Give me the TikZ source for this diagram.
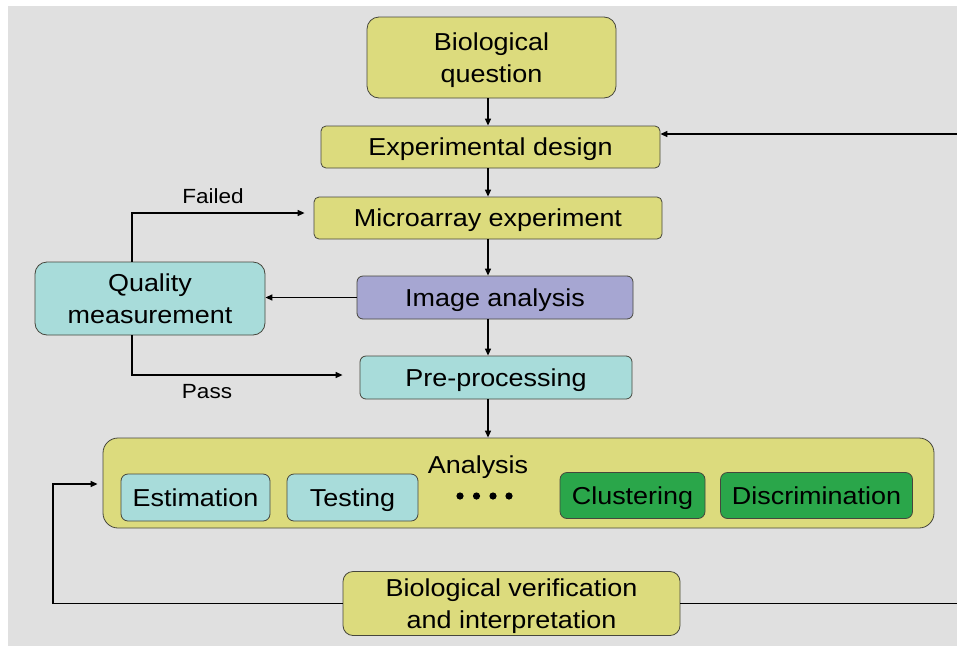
\documentclass[tikz,border=0pt]{standalone}
\usepackage{fontspec}
\setmainfont{Liberation Sans}[FakeStretch=1.1]
\usetikzlibrary{arrows.meta}
\definecolor{bg}{RGB}{224,224,224}
\definecolor{yel}{RGB}{220,219,125}
\definecolor{cya}{RGB}{168,220,218}
\definecolor{grn}{RGB}{42,166,74}
\definecolor{lav}{RGB}{166,166,210}
\definecolor{edge}{RGB}{70,70,60}
\tikzset{
  box/.style={draw=edge, line width=0.8pt, inner sep=0pt, align=center,
    text depth=0pt, font=\fontsize{24.5}{31.5}\selectfont},
  ybox/.style={box, fill=yel},
  cbox/.style={box, fill=cya},
  gbox/.style={box, fill=grn},
  lbox/.style={box, fill=lav},
  lbl/.style={inner sep=0pt, font=\fontsize{20.5}{24}\selectfont},
  arr/.style={line width=1.3pt, -{Triangle[length=7pt,width=6pt]}},
  ln/.style={line width=1.3pt}
}
\begin{document}
\begin{tikzpicture}[x=1pt,y=-1pt]
\useasboundingbox (0,0) rectangle (957,648);
\fill[bg] (8,6) rectangle (957,646);

\node[ybox, rounded corners=12pt, minimum width=249pt, minimum height=81pt] (bq) at (491.5,57.5) {Biological\\question};
\node[ybox, rounded corners=5pt, minimum width=339pt, minimum height=42pt] (ed) at (490.5,147) {Experimental design};
\node[ybox, rounded corners=5pt, minimum width=348pt, minimum height=42pt] (ma) at (488,218) {Microarray experiment};
\node[lbox, rounded corners=6pt, minimum width=276pt, minimum height=43pt] (ia) at (495,297.5) {Image analysis};
\node[cbox, rounded corners=6pt, minimum width=272pt, minimum height=43pt] (pp) at (496,377.5) {Pre-processing};
\node[cbox, rounded corners=12pt, minimum width=230pt, minimum height=73pt] (qm) at (150,298.5) {Quality\\measurement};
\node[ybox, rounded corners=15pt, minimum width=831pt, minimum height=90pt] (an) at (518.5,483) {};
\node[inner sep=0pt, text depth=0pt, font=\fontsize{24.5}{30}\selectfont] (antxt) at (478,465) {Analysis};
\node[cbox, rounded corners=7pt, minimum width=149pt, minimum height=47pt] (es) at (195.5,497.5) {Estimation};
\node[cbox, rounded corners=7pt, minimum width=131pt, minimum height=47pt] (te) at (352.5,497.5) {Testing};
\node[gbox, rounded corners=7pt, minimum width=145pt, minimum height=46pt] (cl) at (632.5,495.5) {Clustering};
\node[gbox, rounded corners=7pt, minimum width=192pt, minimum height=46pt] (di) at (816.5,495.5) {Discrimination};
\node[ybox, rounded corners=10pt, minimum width=337pt, minimum height=64pt] (bv) at (511.5,603.5) {Biological verification\\and interpretation};

\foreach \x in {460,476.5,493,509} \fill (\x,496) circle (3.6pt);

\node[lbl] (fl) at (213,196) {Failed};
\node[lbl] (ps) at (207,392) {Pass};

\coordinate (sp) at (488,0);
\draw[arr] (bq.south -| sp) -- (ed.north -| sp);
\draw[arr] (ed.south -| sp) -- (ma.north -| sp);
\draw[arr] (ma.south -| sp) -- (ia.north -| sp);
\draw[arr] (ia.south -| sp) -- (pp.north -| sp);
\draw[arr] (pp.south -| sp) -- (an.north -| sp);

\draw[arr] (ia.west) -- (ia.west -| qm.east);

\coordinate (f) at (132,213);
\draw[arr, shorten >=9pt] (qm.north -| f) -- (f) -- (f -| ma.west);
\coordinate (p) at (132,375);
\draw[arr, shorten >=17pt] (qm.south -| p) -- (p) -- (p -| pp.west);

\coordinate (r1) at (958,603.5);
\coordinate (r2) at (958,134);
\draw[arr] (bv.east) -- (r1) -- (r2) -- (r2 -| ed.east);

\coordinate (l1) at (53,603.5);
\coordinate (l2) at (53,484);
\draw[arr, shorten >=5pt] (bv.west) -- (l1) -- (l2) -- (l2 -| an.west);
\end{tikzpicture}
\end{document}
